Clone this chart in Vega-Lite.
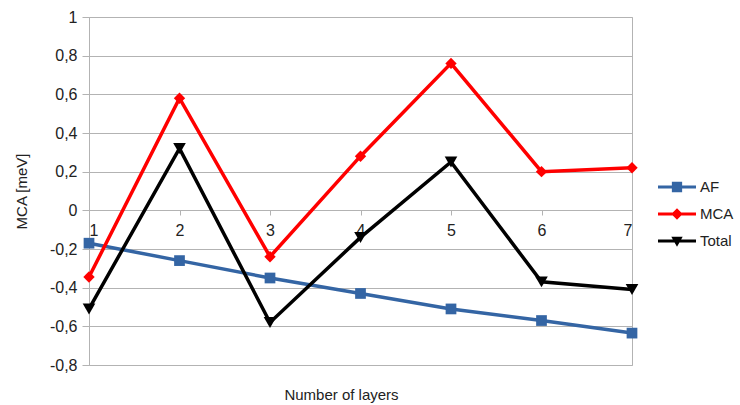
{
  "$schema": "https://vega.github.io/schema/vega-lite/v6.json",
  "width": 543,
  "height": 348,
  "autosize": {"type": "none"},
  "padding": {"left": 89, "top": 17, "right": 108, "bottom": 40},
  "background": "white",
  "config": {
    "font": "Liberation Sans",
    "view": {"stroke": "#b3b3b3", "strokeWidth": 1},
    "axis": {"labelFont": "Liberation Sans", "titleFont": "Liberation Sans", "labelColor": "#222222", "titleColor": "#222222", "titleFontWeight": "normal"}
  },
  "data": {
    "values": [
      {"layers": 1, "series": "AF", "value": -0.17},
      {"layers": 2, "series": "AF", "value": -0.26},
      {"layers": 3, "series": "AF", "value": -0.35},
      {"layers": 4, "series": "AF", "value": -0.43},
      {"layers": 5, "series": "AF", "value": -0.51},
      {"layers": 6, "series": "AF", "value": -0.57},
      {"layers": 7, "series": "AF", "value": -0.635},
      {"layers": 1, "series": "MCA", "value": -0.345},
      {"layers": 2, "series": "MCA", "value": 0.58},
      {"layers": 3, "series": "MCA", "value": -0.24},
      {"layers": 4, "series": "MCA", "value": 0.28},
      {"layers": 5, "series": "MCA", "value": 0.76},
      {"layers": 6, "series": "MCA", "value": 0.2},
      {"layers": 7, "series": "MCA", "value": 0.22},
      {"layers": 1, "series": "Total", "value": -0.51},
      {"layers": 2, "series": "Total", "value": 0.32},
      {"layers": 3, "series": "Total", "value": -0.58},
      {"layers": 4, "series": "Total", "value": -0.14},
      {"layers": 5, "series": "Total", "value": 0.25},
      {"layers": 6, "series": "Total", "value": -0.37},
      {"layers": 7, "series": "Total", "value": -0.41}
    ]
  },
  "encoding": {
    "x": {
      "field": "layers",
      "type": "quantitative",
      "scale": {"domain": [1, 7], "nice": false, "zero": false},
      "axis": {
        "values": [1, 2, 3, 4, 5, 6, 7],
        "format": "d",
        "grid": false,
        "domain": false,
        "offset": -155,
        "tickColor": "#b3b3b3",
        "tickSize": 5,
        "labelFontSize": 16,
        "labelPadding": 7,
        "title": "Number of layers",
        "titleFontSize": 15,
        "titleX": 252,
        "titleY": 177,
        "titleAnchor": "middle"
      }
    },
    "y": {
      "field": "value",
      "type": "quantitative",
      "scale": {"domain": [-0.8, 1], "nice": false},
      "axis": {
        "values": [-0.8, -0.6, -0.4, -0.2, 0, 0.2, 0.4, 0.6, 0.8, 1],
        "labelExpr": "(datum.value < 0 ? '-' : '') + replace(format(abs(datum.value), '.1~f'), '.', ',')",
        "gridColor": "#b3b3b3",
        "domainColor": "#b3b3b3",
        "tickColor": "#b3b3b3",
        "tickSize": 7,
        "labelFontSize": 16,
        "labelPadding": 5,
        "title": "MCA [meV]",
        "titleFontSize": 15,
        "titlePadding": 20
      }
    },
    "color": {
      "field": "series",
      "type": "nominal",
      "scale": {"domain": ["AF", "MCA", "Total"], "range": ["#3465a4", "#ff0000", "#000000"]},
      "legend": {
        "title": null,
        "orient": "none",
        "legendX": 569,
        "legendY": 151,
        "labelFontSize": 15,
        "labelColor": "#222222",
        "symbolSize": 1444,
        "symbolStrokeWidth": 0,
        "symbolType": "M-1,-0.08H1V0.08H-1Z",
        "rowPadding": 0,
        "labelOffset": 4,
        "encode": {
          "symbols": {
            "update": {
              "shape": {"signal": "datum.value == 'AF' ? 'M-1,-0.08H1V0.08H-1Z M-0.27,-0.27H0.27V0.27H-0.27Z' : datum.value == 'MCA' ? 'M-1,-0.08H1V0.08H-1Z M0,-0.3L0.3,0L0,0.3L-0.3,0Z' : 'M-1,-0.08H1V0.08H-1Z M-0.3,-0.22H0.3L0,0.3Z'"},
              "strokeWidth": {"value": 0},
              "fillOpacity": {"value": 1}
            }
          }
        }
      }
    }
  },
  "layer": [
    {
      "mark": {"type": "line", "strokeWidth": 3.5},
      "encoding": {"detail": {"field": "series"}}
    },
    {
      "transform": [{"filter": "datum.series == 'AF'"}],
      "mark": {"type": "point", "filled": true, "opacity": 1, "shape": "square", "size": 115}
    },
    {
      "transform": [{"filter": "datum.series == 'MCA'"}],
      "mark": {"type": "point", "filled": true, "opacity": 1, "shape": "diamond", "size": 130}
    },
    {
      "transform": [{"filter": "datum.series == 'Total'"}],
      "mark": {"type": "point", "filled": true, "opacity": 1, "shape": "triangle-down", "size": 160}
    }
  ]
}
